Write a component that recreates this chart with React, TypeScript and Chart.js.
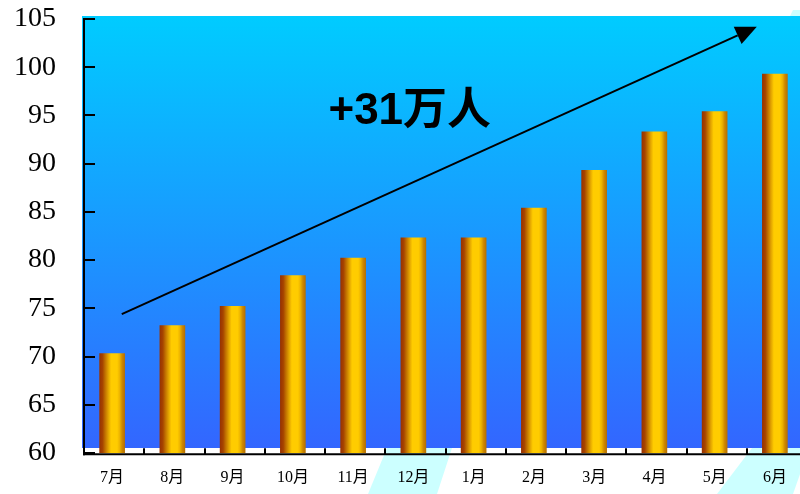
import React, { useEffect, useRef } from "react";
import { Chart, registerables } from "chart.js";

Chart.register(...registerables);

// ---- data ----
const categories = ["7月", "8月", "9月", "10月", "11月", "12月", "1月", "2月", "3月", "4月", "5月", "6月"];
const values = [70.3, 73.2, 75.2, 78.4, 80.2, 82.3, 82.3, 85.4, 89.3, 93.3, 95.4, 99.3];
const Y_MIN = 60;
const Y_MAX = 105;
const Y_STEP = 5;
const annotationText = "+31万人";
// arrow / text anchors in data space (category index, value)
const arrowFrom = [0.16, 74.4];
const arrowTo = [10.7, 104.2];
const textAt = [4.94, 94.1];

const SERIF = '"Liberation Serif", "Times New Roman", "Noto Sans CJK SC", serif';
const SANS = 'Arial, "Liberation Sans", "Noto Sans CJK SC", sans-serif';
const BAR_W = 25;

function barGradient(ctx: any) {
  const chart = ctx.chart;
  const xs = chart.scales && chart.scales.x;
  if (!xs || ctx.dataIndex == null || !chart.chartArea) return "#FFCC00";
  const cx = xs.getPixelForValue(ctx.dataIndex);
  const g = chart.ctx.createLinearGradient(cx - BAR_W / 2, 0, cx + BAR_W / 2, 0);
  g.addColorStop(0, "#993300");
  g.addColorStop(0.12, "#A64400");
  g.addColorStop(0.22, "#C07000");
  g.addColorStop(0.34, "#E0A000");
  g.addColorStop(0.46, "#FFCC00");
  g.addColorStop(0.7, "#FFCC00");
  g.addColorStop(0.8, "#EDB400");
  g.addColorStop(0.9, "#CC8800");
  g.addColorStop(1, "#B87000");
  return g;
}

const decoPlugin = {
  id: "deco",
  beforeDraw(chart: any) {
    const { ctx, chartArea } = chart;
    ctx.save();
    // light cyan patches below the axis
    ctx.fillStyle = "#CCFFFF";
    const polys = [
      [[387, 448], [452, 448], [437, 494], [368, 494]],
      [[752, 448], [805, 448], [805, 460], [793, 494], [717, 494]],
      [[793, 10], [805, 10], [805, 16], [790, 16]],
    ];
    for (const p of polys) {
      ctx.beginPath();
      ctx.moveTo(p[0][0], p[0][1]);
      for (let i = 1; i < p.length; i++) ctx.lineTo(p[i][0], p[i][1]);
      ctx.closePath();
      ctx.fill();
    }
    // plot background gradient
    const top = chartArea.top - 3;
    const bottom = chartArea.bottom - 5;
    const g = ctx.createLinearGradient(0, top, 0, bottom);
    g.addColorStop(0, "#00CCFF");
    g.addColorStop(1, "#3366FF");
    ctx.fillStyle = g;
    ctx.fillRect(chartArea.left, top, chartArea.right - chartArea.left, bottom - top);
    ctx.restore();
  },
  afterDatasetsDraw(chart: any) {
    const { ctx, chartArea } = chart;
    const xs = chart.scales.x;
    const ys = chart.scales.y;
    ctx.save();
    ctx.strokeStyle = "#000";
    ctx.fillStyle = "#000";
    ctx.lineWidth = 2;
    const axX = chartArea.left + 2;
    const axY = chartArea.bottom + 1.3;
    // y axis line
    ctx.beginPath();
    ctx.moveTo(axX, ys.getPixelForValue(Y_MAX) - 1);
    ctx.lineTo(axX, axY + 1);
    ctx.stroke();
    // y ticks (inward)
    for (let v = Y_MIN; v <= Y_MAX; v += Y_STEP) {
      const y = Math.round(ys.getPixelForValue(v));
      ctx.beginPath();
      ctx.moveTo(axX, y);
      ctx.lineTo(axX + 11, y);
      ctx.stroke();
    }
    // x axis line
    ctx.beginPath();
    ctx.moveTo(axX - 1, axY);
    ctx.lineTo(chartArea.right, axY);
    ctx.stroke();
    // x ticks at category boundaries (upward)
    for (let i = 0; i < categories.length - 1; i++) {
      const x = Math.round((xs.getPixelForValue(i) + xs.getPixelForValue(i + 1)) / 2) + 2;
      ctx.beginPath();
      ctx.moveTo(x, axY - 6);
      ctx.lineTo(x, axY);
      ctx.stroke();
    }
    // arrow
    const x1 = xs.getPixelForValue(arrowFrom[0]);
    const y1 = ys.getPixelForValue(arrowFrom[1]);
    const x2 = xs.getPixelForValue(arrowTo[0]);
    const y2 = ys.getPixelForValue(arrowTo[1]);
    const len = Math.hypot(x2 - x1, y2 - y1);
    const ux = (x2 - x1) / len;
    const uy = (y2 - y1) / len;
    const headL = 21;
    const headW = 9.5;
    const bx = x2 - ux * headL;
    const by = y2 - uy * headL;
    ctx.lineWidth = 2;
    ctx.beginPath();
    ctx.moveTo(x1, y1);
    ctx.lineTo(bx, by);
    ctx.stroke();
    ctx.beginPath();
    ctx.moveTo(x2, y2);
    ctx.lineTo(bx - uy * headW, by + ux * headW);
    ctx.lineTo(bx + uy * headW, by - ux * headW);
    ctx.closePath();
    ctx.fill();
    // text
    ctx.font = "bold 44px " + SANS;
    ctx.textAlign = "center";
    ctx.textBaseline = "alphabetic";
    ctx.fillText(annotationText, xs.getPixelForValue(textAt[0]), ys.getPixelForValue(textAt[1]));
    ctx.restore();
  },
};

export default function App() {
  const ref = useRef<HTMLCanvasElement | null>(null);
  useEffect(() => {
    if (!ref.current) return;
    const chart = new Chart(ref.current, {
      type: "bar",
      data: {
        labels: categories,
        datasets: [
          {
            data: values,
            backgroundColor: barGradient,
            borderWidth: 0,
            barThickness: BAR_W,
          },
        ],
      },
      options: {
        animation: false,
        responsive: true,
        maintainAspectRatio: false,
        devicePixelRatio: 1,
        layout: { padding: { top: 19, left: 0, right: 0, bottom: 0 } },
        plugins: { legend: { display: false }, tooltip: { enabled: false } },
        scales: {
          x: {
            grid: { display: false, drawTicks: false },
            border: { display: false },
            ticks: {
              color: "#000",
              font: { family: SERIF, size: 16 },
              padding: 15,
              maxRotation: 0,
              autoSkip: false,
            },
            afterFit: (s: any) => {
              s.height = 494 - 453;
              s.paddingLeft = 0;
              s.paddingRight = 0;
            },
          },
          y: {
            min: Y_MIN,
            max: Y_MAX,
            grid: { display: false, drawTicks: false },
            border: { display: false },
            ticks: {
              stepSize: Y_STEP,
              color: "#000",
              font: { family: SERIF, size: 28 },
              padding: 26,
            },
            afterFit: (s: any) => {
              s.width = 82;
              s.paddingTop = 0;
              s.paddingBottom = 0;
            },
          },
        },
      },
      plugins: [decoPlugin],
    });
    return () => chart.destroy();
  }, []);
  return (
    <div style={{ position: "fixed", left: 0, top: 0, width: 800, height: 494, overflow: "hidden", background: "#fff" }}>
      <div style={{ position: "relative", width: 805, height: 494 }}>
        <canvas ref={ref} />
      </div>
    </div>
  );
}
